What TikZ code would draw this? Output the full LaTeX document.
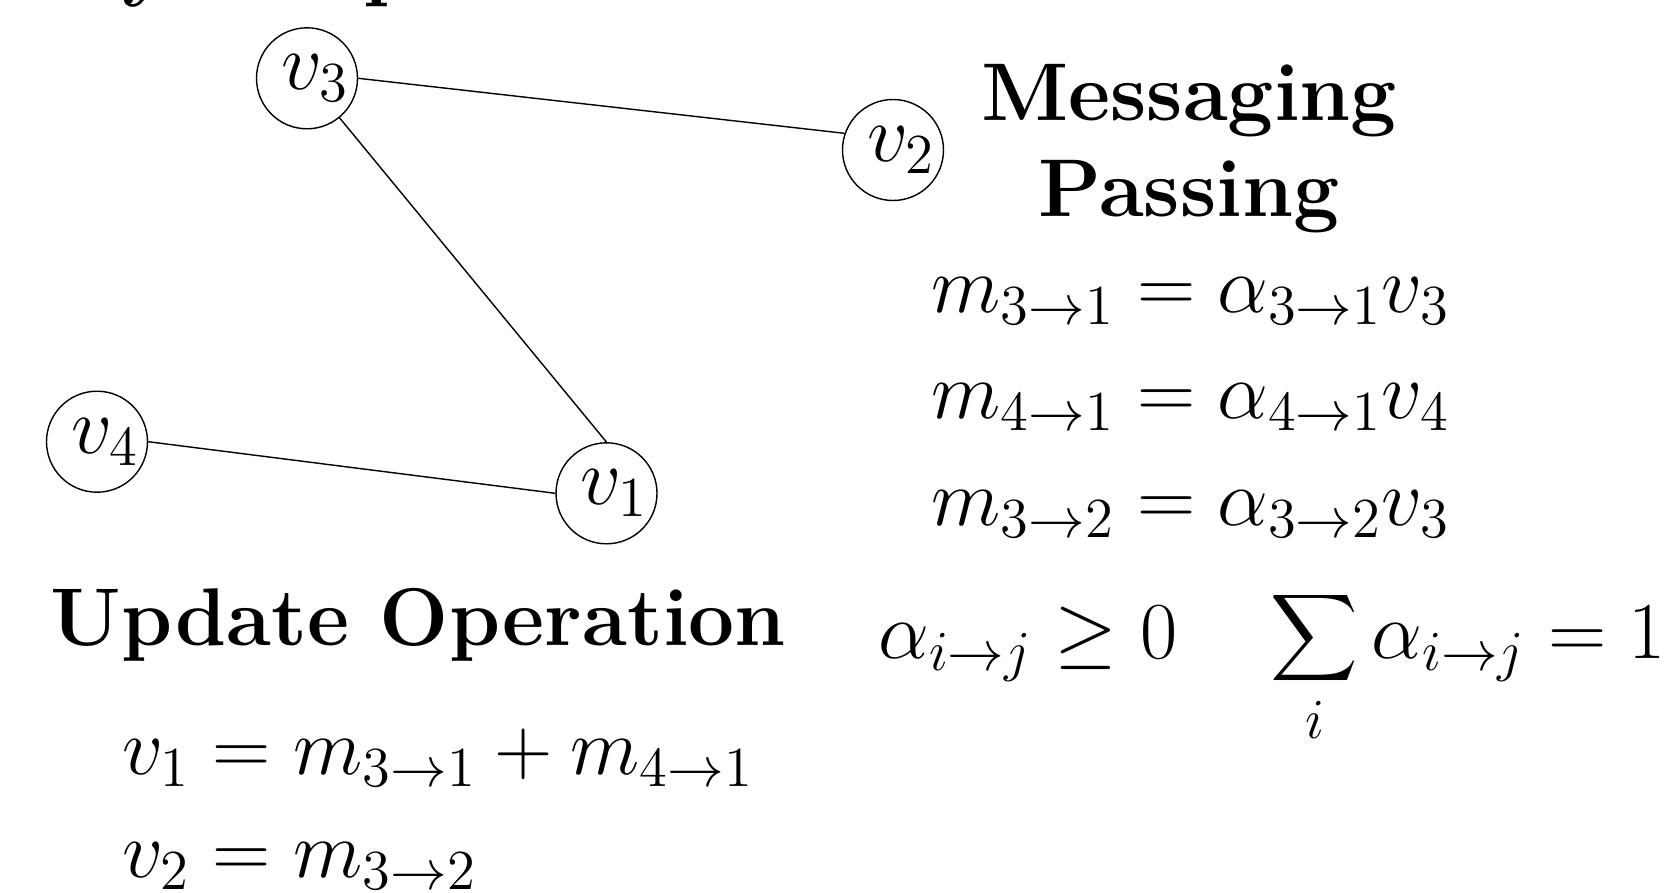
\documentclass[tikz,border=0pt]{standalone}
\usepackage{fix-cm}
\usepackage{amsmath}
\usepackage{tikz}

\newcommand{\mathsize}{\fontsize{23}{27}\selectfont}
\newcommand{\headsize}{\fontsize{23.3}{28}\selectfont}
\newcommand{\bigsum}{\mathop{\vcenter{\hbox{\fontsize{17.28}{20}\selectfont$\displaystyle\sum$}}}\limits}

\tikzset{
  vert/.style={circle, draw, inner sep=0pt, minimum size=1.01cm, font=\mathsize,
               execute at begin node=\hspace*{0.16cm}},
  head/.style={font=\headsize\bfseries, inner sep=0pt, anchor=base west},
  eq/.style={font=\mathsize, inner sep=0pt, anchor=base west}
}

\begin{document}
\begin{tikzpicture}
        \useasboundingbox (0,0) rectangle (16.69,-8.92);

        % Vértices
        \node[vert] (v3) at (3.07,-0.783) {$v_3$};
        \node[vert] (v2) at (8.93,-1.50) {$v_2$};
        \node[vert] (v4) at (0.97,-4.417) {$v_4$};
        \node[vert] (v1) at (6.065,-4.933) {$v_1$};

        % Arestas
        \draw (v3.east) -- (v2.161);
        \draw (v3) -- (v1.north);
        \draw (v4.east) -- (v1.west);

        % Títulos
        \node[head, font=\fontsize{24}{28}\selectfont\bfseries] (title) at (0.19,0.095) {Toy Graph};
        \node[head, anchor=base] (msg) at (11.89,-1.20) {Messaging};
        \node[head, anchor=base] (pass) at (11.89,-2.167) {Passing};
        \node[head] (upd) at (0.50,-6.45) {Update Operation};

        % Mensagens
        \node[eq] (m31) at (9.31,-3.12) {$m_{3\to1} = \alpha_{3\to1} v_3$};
        \node[eq] (m41) at (9.31,-4.185) {$m_{4\to1} = \alpha_{4\to1} v_4$};
        \node[eq] (m32) at (9.31,-5.25) {$m_{3\to2} = \alpha_{3\to2} v_3$};
        \node[eq] (pos) at (8.78,-6.58) {$\alpha_{i\to j} \geq 0$};
        \node[eq] (norm) at (12.70,-6.58) {$\bigsum_i \alpha_{i\to j} = 1$};

        % Atualização
        \node[eq] (up1) at (1.22,-7.74) {$v_1 = m_{3\to1} + m_{4\to1}$};
        \node[eq] (up2) at (1.22,-8.77) {$v_2 = m_{3\to2}$};

\end{tikzpicture}
\end{document}
